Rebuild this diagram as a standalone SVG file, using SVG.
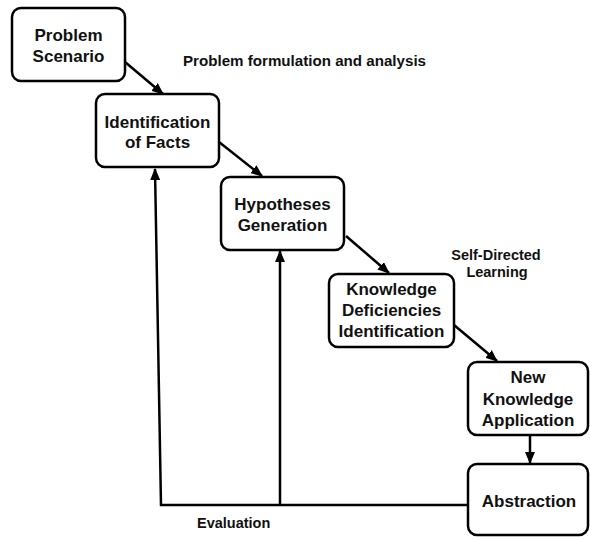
<svg xmlns="http://www.w3.org/2000/svg" width="590" height="537" viewBox="0 0 590 537">
<defs>
<marker id="ah" viewBox="0 0 12 10" refX="11" refY="5" markerWidth="12" markerHeight="10" markerUnits="userSpaceOnUse" orient="auto">
<path d="M0,0 L12,5 L0,10 Z" fill="#000"/>
</marker>
<style>
.box{fill:#fff;stroke:#000;stroke-width:2.5}
.t{font-family:"Liberation Sans",Arial,sans-serif;font-weight:bold;font-size:17px;text-anchor:middle;fill:#111}
.l{font-family:"Liberation Sans",Arial,sans-serif;font-weight:bold;font-size:14.5px;fill:#111}
.c{fill:none;stroke:#000;stroke-width:2.5}
</style>
</defs>
<rect width="590" height="537" fill="#fff"/>
<g id="connectors">
<line class="c" x1="125" y1="62" x2="163" y2="94" marker-end="url(#ah)"/>
<line class="c" x1="219" y1="142" x2="262" y2="176" marker-end="url(#ah)"/>
<line class="c" x1="346" y1="236" x2="389" y2="273" marker-end="url(#ah)"/>
<line class="c" x1="454" y1="325" x2="497" y2="361" marker-end="url(#ah)"/>
<line class="c" x1="530" y1="436" x2="530" y2="463" marker-end="url(#ah)"/>
<polyline class="c" points="468,505 161,505 155,169" marker-end="url(#ah)"/>
<line class="c" x1="280" y1="505" x2="280" y2="251" marker-end="url(#ah)"/>
</g>
<g id="problem-scenario">
<rect class="box" x="12" y="8" width="113" height="73" rx="9"/>
<text class="t" x="68.5" y="41">Problem</text>
<text class="t" x="68.5" y="62">Scenario</text>
</g>
<g id="identification-of-facts">
<rect class="box" x="96" y="94" width="123" height="73" rx="9"/>
<text class="t" x="157.5" y="128">Identification</text>
<text class="t" x="157.5" y="148">of Facts</text>
</g>
<g id="hypotheses-generation">
<rect class="box" x="221" y="177" width="123" height="73" rx="9"/>
<text class="t" x="282.5" y="210">Hypotheses</text>
<text class="t" x="282.5" y="231">Generation</text>
</g>
<g id="knowledge-deficiencies">
<rect class="box" x="329" y="274" width="125" height="73" rx="9"/>
<text class="t" x="391.5" y="295">Knowledge</text>
<text class="t" x="391.5" y="316">Deficiencies</text>
<text class="t" x="391.5" y="337">Identification</text>
</g>
<g id="new-knowledge-application">
<rect class="box" x="468" y="362" width="120" height="73" rx="9"/>
<text class="t" x="528" y="383">New</text>
<text class="t" x="528" y="405">Knowledge</text>
<text class="t" x="528" y="426">Application</text>
</g>
<g id="abstraction">
<rect class="box" x="468" y="464" width="120" height="71" rx="9"/>
<text class="t" x="529" y="507">Abstraction</text>
</g>
<g id="labels">
<text class="l" x="183" y="66" textLength="243" lengthAdjust="spacingAndGlyphs">Problem formulation and analysis</text>
<text class="l" x="496" y="260" text-anchor="middle">Self-Directed</text>
<text class="l" x="497" y="277" text-anchor="middle">Learning</text>
<text class="l" x="197" y="528">Evaluation</text>
</g>
</svg>
